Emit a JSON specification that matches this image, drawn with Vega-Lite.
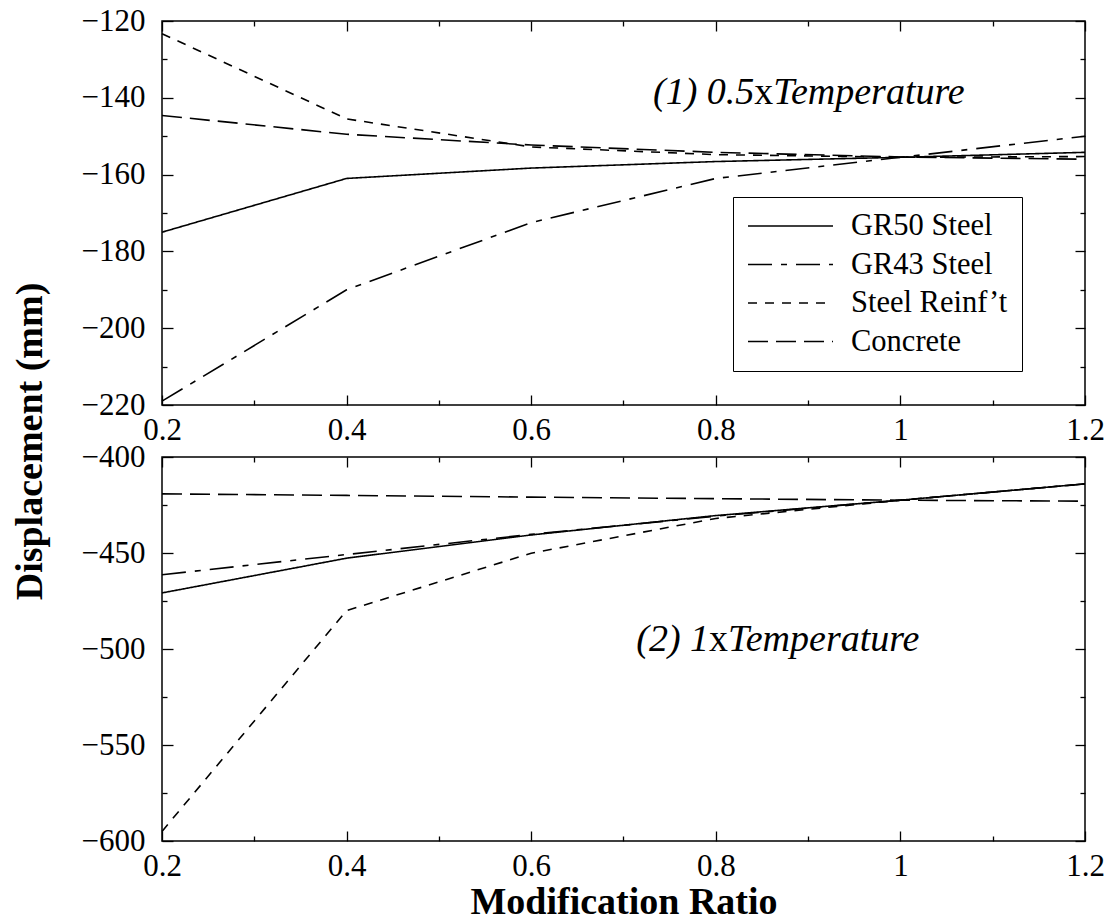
{
  "$schema": "https://vega.github.io/schema/vega-lite/v6.json",
  "padding": {"left": 10, "top": 4, "right": 10, "bottom": 4},
  "bounds": "flush",
  "spacing": 52,
  "config": {
    "font": "Liberation Serif",
    "view": {"stroke": "black", "strokeWidth": 1.5},
    "axis": {"grid": false, "domain": false, "labelFlush": false, "tickColor": "black", "tickWidth": 1.3, "labelColor": "black", "labelFont": "Liberation Serif", "labelFontSize": 31, "titleColor": "black", "titleFont": "Liberation Serif"}
  },
  "datasets": {
    "top": [
      {"ratio": 0.2, "disp": -175, "material": "GR50 Steel"},
      {"ratio": 0.4, "disp": -161, "material": "GR50 Steel"},
      {"ratio": 0.6, "disp": -158.3, "material": "GR50 Steel"},
      {"ratio": 0.8, "disp": -156.6, "material": "GR50 Steel"},
      {"ratio": 1.0, "disp": -155.5, "material": "GR50 Steel"},
      {"ratio": 1.2, "disp": -154.2, "material": "GR50 Steel"},
      {"ratio": 0.2, "disp": -219, "material": "GR43 Steel"},
      {"ratio": 0.4, "disp": -190, "material": "GR43 Steel"},
      {"ratio": 0.6, "disp": -172.5, "material": "GR43 Steel"},
      {"ratio": 0.8, "disp": -161, "material": "GR43 Steel"},
      {"ratio": 1.0, "disp": -155.5, "material": "GR43 Steel"},
      {"ratio": 1.2, "disp": -150, "material": "GR43 Steel"},
      {"ratio": 0.2, "disp": -123.3, "material": "Steel Reinf’t"},
      {"ratio": 0.4, "disp": -145.5, "material": "Steel Reinf’t"},
      {"ratio": 0.6, "disp": -152.8, "material": "Steel Reinf’t"},
      {"ratio": 0.8, "disp": -154.8, "material": "Steel Reinf’t"},
      {"ratio": 1.0, "disp": -155.5, "material": "Steel Reinf’t"},
      {"ratio": 1.2, "disp": -155.3, "material": "Steel Reinf’t"},
      {"ratio": 0.2, "disp": -144.6, "material": "Concrete"},
      {"ratio": 0.4, "disp": -149.5, "material": "Concrete"},
      {"ratio": 0.6, "disp": -152.3, "material": "Concrete"},
      {"ratio": 0.8, "disp": -154.2, "material": "Concrete"},
      {"ratio": 1.0, "disp": -155.4, "material": "Concrete"},
      {"ratio": 1.2, "disp": -156, "material": "Concrete"}
    ],
    "bottom": [
      {"ratio": 0.2, "disp": -470.8, "material": "GR50 Steel"},
      {"ratio": 0.4, "disp": -452.7, "material": "GR50 Steel"},
      {"ratio": 0.6, "disp": -440.6, "material": "GR50 Steel"},
      {"ratio": 0.8, "disp": -430.5, "material": "GR50 Steel"},
      {"ratio": 1.0, "disp": -422.5, "material": "GR50 Steel"},
      {"ratio": 1.2, "disp": -414, "material": "GR50 Steel"},
      {"ratio": 0.2, "disp": -461.3, "material": "GR43 Steel"},
      {"ratio": 0.4, "disp": -450.8, "material": "GR43 Steel"},
      {"ratio": 0.6, "disp": -440.3, "material": "GR43 Steel"},
      {"ratio": 0.8, "disp": -430.8, "material": "GR43 Steel"},
      {"ratio": 1.0, "disp": -422.5, "material": "GR43 Steel"},
      {"ratio": 1.2, "disp": -414, "material": "GR43 Steel"},
      {"ratio": 0.2, "disp": -595, "material": "Steel Reinf’t"},
      {"ratio": 0.4, "disp": -480, "material": "Steel Reinf’t"},
      {"ratio": 0.6, "disp": -450.1, "material": "Steel Reinf’t"},
      {"ratio": 0.8, "disp": -432, "material": "Steel Reinf’t"},
      {"ratio": 1.0, "disp": -422.5, "material": "Steel Reinf’t"},
      {"ratio": 1.2, "disp": -414, "material": "Steel Reinf’t"},
      {"ratio": 0.2, "disp": -419.2, "material": "Concrete"},
      {"ratio": 0.4, "disp": -420, "material": "Concrete"},
      {"ratio": 0.6, "disp": -420.9, "material": "Concrete"},
      {"ratio": 0.8, "disp": -421.7, "material": "Concrete"},
      {"ratio": 1.0, "disp": -422.5, "material": "Concrete"},
      {"ratio": 1.2, "disp": -423, "material": "Concrete"}
    ]
  },
  "vconcat": [
    {
      "width": 923,
      "height": 384,
      "layer": [
        {
          "data": {"name": "top"},
          "mark": {"type": "line", "stroke": "black", "strokeWidth": 1.6},
          "encoding": {
            "x": {"field": "ratio", "type": "quantitative", "scale": {"domain": [0.2, 1.2], "nice": false, "zero": false},
              "axis": {"orient": "bottom", "title": null, "values": [0.2,0.3,0.4,0.5,0.6,0.7,0.8,0.9,1.0,1.1,1.2],
                "tickSize": {"condition": {"test": "round(datum.value*10)%2==0", "value": -10}, "value": -5},
                "labelPadding": 20, "labelExpr": "round(datum.value*10)%2==0 ? format(datum.value,'~g') : ''"}},
            "y": {"field": "disp", "type": "quantitative", "scale": {"domain": [-220, -120], "nice": false, "zero": false},
              "axis": {"orient": "left", "title": "Displacement (mm)", "titleFontSize": 38, "titleFontWeight": "bold", "titleY": 420, "titlePadding": 32,
                "values": [-220,-210,-200,-190,-180,-170,-160,-150,-140,-130,-120],
                "tickSize": {"condition": {"test": "round(datum.value)%20==0", "value": -11}, "value": -5},
                "labelPadding": 28, "labelExpr": "round(datum.value)%20==0 ? format(datum.value,'d') : ''"}},
            "strokeDash": {"field": "material", "type": "nominal",
              "scale": {"domain": ["GR50 Steel", "GR43 Steel", "Steel Reinf’t", "Concrete"], "range": [[1, 0], [24, 9, 6, 9], [9, 8], [20, 8]]},
              "legend": {"title": null, "orient": "none", "legendX": 571, "legendY": 176, "symbolType": "stroke", "symbolSize": 7225, "clipHeight": 30,
                "symbolStrokeWidth": 1.6, "symbolStrokeColor": "black", "labelFont": "Liberation Serif", "labelFontSize": 30.5, "labelColor": "black",
                "labelOffset": 17, "rowPadding": 7.5, "padding": 14, "strokeColor": "black", "fillColor": "white"}}
          }
        },
        {
          "data": {"name": "top"},
          "mark": {"type": "point", "opacity": 0},
          "encoding": {
            "x": {"field": "ratio", "type": "quantitative", "axis": {"orient": "top", "title": null, "labels": false, "values": [0.2,0.3,0.4,0.5,0.6,0.7,0.8,0.9,1.0,1.1,1.2],
                "tickSize": {"condition": {"test": "round(datum.value*10)%2==0", "value": -10}, "value": -5}}},
            "y": {"field": "disp", "type": "quantitative", "axis": {"orient": "right", "title": null, "labels": false, "values": [-220,-210,-200,-190,-180,-170,-160,-150,-140,-130,-120],
                "tickSize": {"condition": {"test": "round(datum.value)%20==0", "value": -10}, "value": -5}}}
          }
        },
        {
          "data": {"values": [{"ratio": 0.852, "disp": -141.6, "t": "(1) 0.5"}]},
          "mark": {"type": "text", "align": "right", "baseline": "alphabetic", "dx": -9.5, "fontStyle": "italic", "fontSize": 38, "font": "Liberation Serif", "color": "black"},
          "encoding": {"x": {"field": "ratio", "type": "quantitative", "axis": null}, "y": {"field": "disp", "type": "quantitative", "axis": null}, "text": {"field": "t"}}
        },
        {
          "data": {"values": [{"ratio": 0.852, "disp": -141.6, "t": "x"}]},
          "mark": {"type": "text", "align": "center", "baseline": "alphabetic", "fontSize": 38, "font": "Liberation Serif", "color": "black"},
          "encoding": {"x": {"field": "ratio", "type": "quantitative", "axis": null}, "y": {"field": "disp", "type": "quantitative", "axis": null}, "text": {"field": "t"}}
        },
        {
          "data": {"values": [{"ratio": 0.852, "disp": -141.6, "t": "Temperature"}]},
          "mark": {"type": "text", "align": "left", "baseline": "alphabetic", "dx": 9.5, "fontStyle": "italic", "fontSize": 38, "font": "Liberation Serif", "color": "black"},
          "encoding": {"x": {"field": "ratio", "type": "quantitative", "axis": null}, "y": {"field": "disp", "type": "quantitative", "axis": null}, "text": {"field": "t"}}
        }
      ],
      "resolve": {"axis": {"x": "independent", "y": "independent"}}
    },
    {
      "width": 923,
      "height": 384,
      "layer": [
        {
          "data": {"name": "bottom"},
          "mark": {"type": "line", "stroke": "black", "strokeWidth": 1.6},
          "encoding": {
            "x": {"field": "ratio", "type": "quantitative", "scale": {"domain": [0.2, 1.2], "nice": false, "zero": false},
              "axis": {"orient": "bottom", "title": "Modification Ratio", "titleFontSize": 38, "titleFontWeight": "bold", "titlePadding": 2,
                "values": [0.2,0.3,0.4,0.5,0.6,0.7,0.8,0.9,1.0,1.1,1.2],
                "tickSize": {"condition": {"test": "round(datum.value*10)%2==0", "value": -10}, "value": -5},
                "labelPadding": 20, "labelExpr": "round(datum.value*10)%2==0 ? format(datum.value,'~g') : ''"}},
            "y": {"field": "disp", "type": "quantitative", "scale": {"domain": [-600, -400], "nice": false, "zero": false},
              "axis": {"orient": "left", "title": null,
                "values": [-600,-575,-550,-525,-500,-475,-450,-425,-400],
                "tickSize": {"condition": {"test": "round(datum.value)%50==0", "value": -11}, "value": -5},
                "labelPadding": 28, "labelExpr": "round(datum.value)%50==0 ? format(datum.value,'d') : ''"}},
            "strokeDash": {"field": "material", "type": "nominal",
              "scale": {"domain": ["GR50 Steel", "GR43 Steel", "Steel Reinf’t", "Concrete"], "range": [[1, 0], [24, 9, 6, 9], [9, 8], [20, 8]]},
              "legend": null}
          }
        },
        {
          "data": {"name": "bottom"},
          "mark": {"type": "point", "opacity": 0},
          "encoding": {
            "x": {"field": "ratio", "type": "quantitative", "axis": {"orient": "top", "title": null, "labels": false, "values": [0.2,0.3,0.4,0.5,0.6,0.7,0.8,0.9,1.0,1.1,1.2],
                "tickSize": {"condition": {"test": "round(datum.value*10)%2==0", "value": -10}, "value": -5}}},
            "y": {"field": "disp", "type": "quantitative", "axis": {"orient": "right", "title": null, "labels": false, "values": [-600,-575,-550,-525,-500,-475,-450,-425,-400],
                "tickSize": {"condition": {"test": "round(datum.value)%50==0", "value": -10}, "value": -5}}}
          }
        },
        {
          "data": {"values": [{"ratio": 0.803, "disp": -500.8, "t": "(2) 1"}]},
          "mark": {"type": "text", "align": "right", "baseline": "alphabetic", "dx": -9.5, "fontStyle": "italic", "fontSize": 38, "font": "Liberation Serif", "color": "black"},
          "encoding": {"x": {"field": "ratio", "type": "quantitative", "axis": null}, "y": {"field": "disp", "type": "quantitative", "axis": null}, "text": {"field": "t"}}
        },
        {
          "data": {"values": [{"ratio": 0.803, "disp": -500.8, "t": "x"}]},
          "mark": {"type": "text", "align": "center", "baseline": "alphabetic", "fontSize": 38, "font": "Liberation Serif", "color": "black"},
          "encoding": {"x": {"field": "ratio", "type": "quantitative", "axis": null}, "y": {"field": "disp", "type": "quantitative", "axis": null}, "text": {"field": "t"}}
        },
        {
          "data": {"values": [{"ratio": 0.803, "disp": -500.8, "t": "Temperature"}]},
          "mark": {"type": "text", "align": "left", "baseline": "alphabetic", "dx": 9.5, "fontStyle": "italic", "fontSize": 38, "font": "Liberation Serif", "color": "black"},
          "encoding": {"x": {"field": "ratio", "type": "quantitative", "axis": null}, "y": {"field": "disp", "type": "quantitative", "axis": null}, "text": {"field": "t"}}
        }
      ],
      "resolve": {"axis": {"x": "independent", "y": "independent"}}
    }
  ]
}
